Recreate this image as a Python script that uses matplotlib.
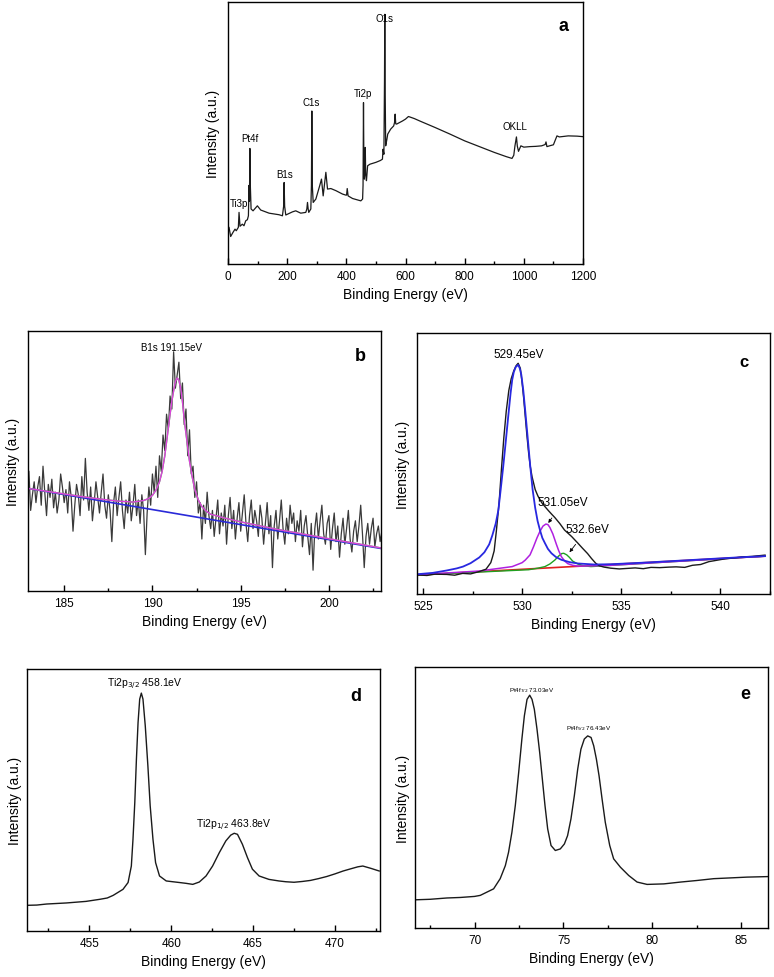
import numpy as np
import matplotlib
matplotlib.use("Agg")
import matplotlib.pyplot as plt

plt.rcParams['font.family'] = ['Liberation Sans', 'DejaVu Sans']

# ---------------- Panel a: survey ----------------
a_x = [0, 3.4, 9, 17, 23.7, 28, 35, 37.3, 40.6, 48.5, 54, 60, 65.5, 69, 71, 72.5, 74, 75.5, 78, 84.7,
       99.3, 110.6, 138.9, 172.7, 184, 188, 189.7, 191.5, 195.3, 217.9, 229, 246, 263, 266.5, 268.7, 271,
       273, 280, 282, 283.4, 285, 288, 297, 310, 316, 321.7, 330.8, 336.4, 347.7, 364.6, 387, 398,
       400.8, 403, 406, 421, 449, 455, 456.5, 458, 459.5, 461, 462.5, 464, 465.5, 468, 472, 480, 500, 515,
       522, 524, 527, 529, 530, 531, 533, 537, 540, 550, 560, 563, 565, 567, 570, 580, 590, 600, 610,
       630, 650, 700, 750, 800, 850, 900, 940, 960, 966, 970, 975, 978, 982, 990, 1000, 1020, 1040, 1060,
       1072, 1075, 1078, 1090, 1100, 1107, 1112, 1120, 1150, 1180, 1200]
a_y = [14.0, 14.0, 10.5, 12.1, 13.3, 12.7, 14.0, 19.7, 14.4, 15.2, 14.6, 16.5, 16.9, 18.4, 30.0, 24.0, 44.1, 30.0, 21.0, 20.3,
       22.2, 20.6, 19.4, 18.8, 18.4, 22.0, 31.1, 22.0, 18.7, 19.9, 20.3, 19.4, 19.7, 21.0, 23.5, 21.0,
       19.7, 21.0, 30.0, 58.4, 30.0, 23.5, 24.8, 29.9, 32.4, 26.0, 35.0, 28.6, 28.8, 28.0, 26.7, 26.3,
       26.3, 28.8, 26.0, 25.0, 24.1, 24.8, 30.0, 61.6, 34.0, 32.4, 38.0, 44.5, 34.0, 31.8, 37.5, 38.1, 38.8, 39.5,
       40.0, 43.8, 41.9, 70.0, 95.3, 70.0, 45.1, 47.5, 49.6, 51.5, 52.7, 54.0, 57.2, 53.5, 53.4, 54.0, 54.6, 55.3, 56.3,
       55.5, 54.5, 52.1, 49.6, 47.0, 44.8, 42.6, 41.0, 40.3, 41.5, 45.1, 48.5, 45.0, 43.0, 45.1, 44.6, 44.8, 44.9, 45.1,
       45.6, 46.6, 44.8, 45.2, 45.5, 47.5, 48.9, 48.5, 48.9, 48.8, 48.6]
a_labels = ["Ti3p", "Pt4f", "B1s", "C1s", "Ti2p", "O1s", "OKLL"]
a_label_x = [37, 73, 190, 280, 457, 528, 971]
a_label_y = [21.2, 46.1, 32.4, 60.1, 63.2, 92.1, 50.8]

# ---------------- Panel b: B1s ----------------
b_x = np.round(np.arange(183.0, 203.05, 0.1), 1)
b_y = [46, 31, 37, 42, 34, 40, 44, 33, 48, 38, 29, 41, 36, 43, 32, 38, 30, 35, 45, 40,
       34, 39, 30, 42, 36, 23, 33, 41, 37, 29, 44, 35, 51, 38, 31, 40, 27, 34, 42, 36,
       30, 38, 45, 33, 28, 37, 31, 19, 34, 40, 29, 36, 42, 31, 24, 35, 30, 38, 27, 33,
       41, 29, 35, 26, 37, 31, 14, 30, 40, 33, 45, 38, 48, 36, 52, 46, 60, 54, 68, 62,
       75, 70, 92, 78, 83, 88, 74, 80, 64, 70, 52, 62, 45, 48, 36, 42, 30, 34, 20, 33,
       26, 38, 29, 24, 31, 21, 28, 35, 22, 30, 25, 33, 18, 29, 36, 24, 31, 20, 28, 34,
       23, 30, 37, 26, 19, 29, 35, 24, 31, 27, 21, 33, 28, 18, 26, 34, 22, 29, 9, 25,
       31, 20, 27, 35, 24, 18, 28, 22, 33, 26, 30, 19, 27, 23, 31, 17, 25, 29, 21, 14,
       26, 8, 24, 30, 20, 27, 33, 22, 18, 26, 29, 16, 24, 30, 19, 25, 13, 22, 28, 18,
       24, 31, 20, 15, 23, 27, 19, 25, 33, 22, 9, 21, 26, 18, 24, 28, 17, 22, 25, 19, 23]
b_fit_x = [183, 186, 187, 188, 188.9, 189.5, 189.8, 190, 190.2, 190.4, 190.55, 190.7, 190.85, 191.0, 191.1,
           191.2, 191.3, 191.4, 191.5, 191.6, 191.7, 191.8, 191.95, 192.1, 192.25, 192.4, 192.6, 192.8,
           193.0, 193.3, 193.7, 194, 195, 197, 200, 203]
b_fit_y = [39.4, 36.3, 35.4, 34.6, 34.2, 34.8, 35.6, 36.8, 38.8, 42, 46, 52, 60, 68, 73,
           77, 80.5, 82, 81, 78, 73, 66, 58, 50, 44, 39, 35, 32.5,
           31, 29.5, 28.8, 28.2, 26.6, 23.8, 20.1, 16.5]
b_base_x = [183, 203]
b_base_y = [39.4, 16.3]

# ---------------- Panel c: O1s ----------------
c_x = [524.75, 525.2, 525.6, 526.2, 526.6, 527.0, 527.4, 527.84, 528.18, 528.42, 528.5, 528.59, 528.7,
       528.84, 528.96, 529.08, 529.2, 529.33, 529.45, 529.58, 529.7, 529.80, 529.91, 530.0, 530.08,
       530.16, 530.24, 530.33, 530.41, 530.5, 530.66, 530.8, 530.99, 531.15, 531.32, 531.5, 531.65,
       531.9, 532.14, 532.5, 532.81, 533.05, 533.30, 533.5, 533.71, 533.9, 534.13, 534.46, 534.9,
       535.29, 535.7, 536.11, 536.5, 536.94, 537.4, 537.77, 538.2, 538.59, 539.0, 539.42, 539.8,
       540.25, 540.7, 541.07, 541.6, 542.25]
c_y = [7.3, 7.1, 7.6, 7.5, 7.2, 7.9, 7.7, 8.6, 9.5, 12, 14, 16.5, 24,
       35, 48, 60, 70, 78, 82.5, 85.5, 87.5, 88.4, 86.5, 81, 75,
       68, 61, 54, 49, 45, 40, 37.5, 35, 33.5, 32, 30.5, 29.3,
       27, 24.5, 22, 19.5, 17.5, 15.5, 13.6, 11.8, 10.8, 10.3, 9.9, 9.6,
       9.8, 10.0, 9.7, 10.2, 10.1, 10.3, 10.4, 10.2, 11.0, 11.3, 12.4, 12.9,
       13.5, 13.8, 14.2, 14.4, 14.9]
c_blue_x = [524.75, 525.5, 526.19, 526.7, 527.02, 527.4, 527.84, 528.1, 528.34, 528.5, 528.67, 528.8,
            528.92, 529.05, 529.17, 529.3, 529.42, 529.5, 529.58, 529.68, 529.80, 529.88, 529.96, 530.06,
            530.16, 530.28, 530.41, 530.53, 530.66, 530.78, 530.90, 531.02, 531.15, 531.3, 531.48, 531.7,
            531.98, 532.4, 532.81, 533.63, 534.46, 536.11, 537.77, 539.42, 541.07, 542.25]
c_blue_y = [7.6, 8.1, 9.0, 9.8, 10.5, 11.8, 14, 16, 19, 22.5, 27, 32,
            40, 49, 58, 68, 77, 82, 85, 87, 87.8, 86.5, 84, 78,
            70, 60, 49, 40, 33, 28, 24.5, 21.5, 19.5, 17.3, 15.6, 14.2,
            13.1, 12.2, 11.7, 11.3, 11.4, 12.0, 12.7, 13.4, 14.1, 14.5]
c_mag_x = [524.75, 527.84, 529.5, 530.0, 530.16, 530.4, 530.57, 530.75, 530.9, 531.05, 531.2, 531.3,
           531.4, 531.55, 531.73, 531.85, 531.98, 532.15, 532.31, 532.55, 532.81, 533.63, 534.46, 542.25]
c_mag_y = [7.4, 8.8, 10.5, 12, 13, 15, 18, 21.5, 24, 26, 26.8, 26.6,
           25.5, 23, 19, 16.5, 14.3, 12.6, 11.6, 11, 10.7, 10.8, 11.0, 14.5]
c_green_x = [524.75, 530.33, 530.8, 531.15, 531.4, 531.65, 531.85, 532.0, 532.1, 532.25, 532.39,
             532.55, 532.81, 533.1, 533.47, 542.25]
c_green_y = [7.3, 9.3, 9.9, 10.5, 11.5, 13, 14.6, 15.5, 15.6, 15.0, 14,
             12.6, 11.5, 10.8, 10.5, 14.5]
c_red_x = [524.75, 542.25]
c_red_y = [7.3, 14.5]

# ---------------- Panel d: Ti2p ----------------
d_x = [451.2, 451.8, 452.4, 453.0, 453.6, 454.2, 454.8, 455.65, 456.1, 456.46, 457.06, 457.37, 457.57,
       457.67, 457.78, 457.88, 457.98, 458.08, 458.18, 458.28, 458.42, 458.58, 458.72, 458.89, 459.05,
       459.29, 459.7, 460.1, 460.51, 460.9, 461.32, 461.72, 462.13, 462.53, 462.94, 463.34, 463.64,
       463.85, 464.05, 464.35, 464.66, 464.96, 465.37, 465.97, 466.58, 467.0, 467.5, 468.0, 468.5,
       469.0, 469.5, 470.0, 470.5, 471.0, 471.4, 471.7, 472.2, 472.7]
d_y = [9.8, 9.9, 10.3, 10.5, 10.7, 11.0, 11.3, 12.1, 12.6, 13.6, 15.9, 18.5, 24.8,
       35, 49, 65.6, 79.6, 88.5, 90.8, 88.5, 78.3, 63, 47.8, 35, 26.1,
       21, 19.1, 18.8, 18.5, 18.2, 17.8, 18.7, 21, 24.8, 29.9, 34.4, 36.6,
       37.3, 36.9, 33.1, 28, 23.6, 21, 19.7, 19.1, 18.8, 18.6, 18.9, 19.3,
       20.0, 20.8, 21.8, 22.9, 23.8, 24.5, 24.8, 23.9, 22.9]

# ---------------- Panel e: Pt4f ----------------
e_x = [66.66, 67.5, 68.44, 69.2, 70.0, 70.32, 71.07, 71.44, 71.73, 71.91, 72.10, 72.29, 72.48, 72.66,
       72.80, 72.95, 73.10, 73.23, 73.36, 73.51, 73.66, 73.81, 73.96, 74.11, 74.30, 74.54, 74.82,
       75.05, 75.23, 75.42, 75.61, 75.80, 75.98, 76.17, 76.36, 76.55, 76.70, 76.85, 77.00, 77.17,
       77.35, 77.60, 77.82, 78.20, 78.67, 79.14, 79.70, 80.64, 81.58, 82.5, 83.45, 84.4, 85.33, 86.51]
e_y = [10.8, 11.0, 11.5, 11.7, 12.1, 12.5, 15.0, 18.9, 23.9, 29.0, 36.7, 46.9, 59.6, 72.4,
       81.3, 87.6, 89.2, 87.6, 83.8, 76.2, 67.3, 57.1, 46.9, 38.0, 31.6, 29.7, 30.3,
       32.2, 35.4, 41.8, 50.7, 60.9, 68.5, 72.4, 73.6, 73.0, 69.8, 64.7, 58.3, 49.4,
       40.5, 31.6, 26.5, 23.3, 20.1, 17.6, 16.7, 16.9, 17.6, 18.2, 18.9, 19.2, 19.5, 19.7]

fig = plt.figure(figsize=(7.74, 9.78), dpi=100)
W, H = 774.0, 978.0


def make_ax(x1, y1, x2, y2):
    return fig.add_axes([x1 / W, 1 - y2 / H, (x2 - x1) / W, (y2 - y1) / H])


def style(ax, xlim, major, minor, ylabel_off):
    ax.set_xlim(*xlim)
    ax.set_ylim(0, 100)
    ax.set_yticks([])
    ax.set_xticks(major)
    ax.set_xticks(minor, minor=True)
    ax.tick_params(axis='x', which='major', direction='in', length=4, width=1, labelsize=8.5, pad=4)
    ax.tick_params(axis='x', which='minor', direction='in', length=2.5, width=1)
    for s in ax.spines.values():
        s.set_linewidth(1.0)
    ax.set_xlabel("Binding Energy (eV)", fontsize=10, labelpad=4)
    ax.set_ylabel("Intensity (a.u.)", fontsize=10)
    ax.yaxis.set_label_coords(ylabel_off, 0.5)


line_col = '#1a1a1a'

# a
ax = make_ax(228, 3, 583, 265)
ax.plot(a_x, a_y, color=line_col, lw=0.9)
style(ax, (0, 1200), [0, 200, 400, 600, 800, 1000, 1200], [100, 300, 500, 700, 900, 1100], -0.022)
for t, x, y in zip(a_labels, a_label_x, a_label_y):
    ax.text(x, y, t, fontsize=7, ha='center', va='bottom')
ax.text(1134, 91, "a", fontsize=13, fontweight='bold', ha='center', va='center')

# b
ax = make_ax(28, 332, 381, 592)
ax.plot(b_x, b_y, color='#3a3a3a', lw=0.9)
ax.plot(b_base_x, b_base_y, color='#2a2ad8', lw=1.2)
ax.plot(b_fit_x, b_fit_y, color='#40c040', lw=1.0)
ax.plot(b_fit_x, b_fit_y, color='#e040e0', lw=1.0)
style(ax, (182.95, 202.95), [185, 190, 195, 200], [187.5, 192.5, 197.5, 202.5], -0.022)
ax.text(191.1, 94, "B1s 191.15eV", fontsize=7, ha='center', va='center')
ax.text(201.8, 90.5, "b", fontsize=13, fontweight='bold', ha='center', va='center')

# c
ax = make_ax(417, 334, 770, 595)
ax.plot(c_red_x, c_red_y, color='#e02020', lw=1.2)
ax.plot(c_green_x, c_green_y, color='#20a020', lw=1.0)
ax.plot(c_mag_x, c_mag_y, color='#b020e0', lw=1.1)
ax.plot(c_x, c_y, color=line_col, lw=1.0)
ax.plot(c_blue_x, c_blue_y, color='#2828e0', lw=1.3)
style(ax, (524.7, 542.25), [525, 530, 535, 540], [527.5, 532.5, 537.5, 542.5], -0.02)
ax.text(529.83, 92, "529.45eV", fontsize=8.5, ha='center', va='center')
ax.annotate("531.05eV", xy=(531.32, 27.2), xytext=(532.06, 35.1), fontsize=8.5, ha='center', va='center',
            arrowprops=dict(arrowstyle='-|>', color='black', lw=0.6, mutation_scale=5, shrinkA=6, shrinkB=0))
ax.annotate("532.6eV", xy=(532.39, 16), xytext=(533.3, 24.9), fontsize=8.5, ha='center', va='center',
            arrowprops=dict(arrowstyle='-|>', color='black', lw=0.6, mutation_scale=5, shrinkA=6, shrinkB=0))
ax.text(541.2, 89, "c", fontsize=12, fontweight='bold', ha='center', va='center')

# d
ax = make_ax(27, 670, 380, 932)
ax.plot(d_x, d_y, color=line_col, lw=1.0)
style(ax, (451.2, 472.75), [455, 460, 465, 470], [452.5, 457.5, 462.5, 467.5, 472.5], -0.015)
ax.text(458.4, 94.3, r"Ti2p$_{3/2}$ 458.1eV", fontsize=7.5, ha='center', va='center')
ax.text(463.8, 40.8, r"Ti2p$_{1/2}$ 463.8eV", fontsize=7.5, ha='center', va='center')
ax.text(471.25, 89.8, "d", fontsize=13, fontweight='bold', ha='center', va='center')

# e
ax = make_ax(415, 668, 768, 929)
ax.plot(e_x, e_y, color=line_col, lw=1.0)
style(ax, (66.65, 86.5), [70, 75, 80, 85], [67.5, 72.5, 77.5, 82.5], -0.015)
ax.text(73.2, 91.2, r"Pt4f$_{7/2}$ 73.03eV", fontsize=4.5, ha='center', va='center')
ax.text(76.4, 76.6, r"Pt4f$_{5/2}$ 76.43eV", fontsize=4.5, ha='center', va='center')
ax.text(85.2, 89.9, "e", fontsize=13, fontweight='bold', ha='center', va='center')

fig.savefig("out.png", dpi=100)
